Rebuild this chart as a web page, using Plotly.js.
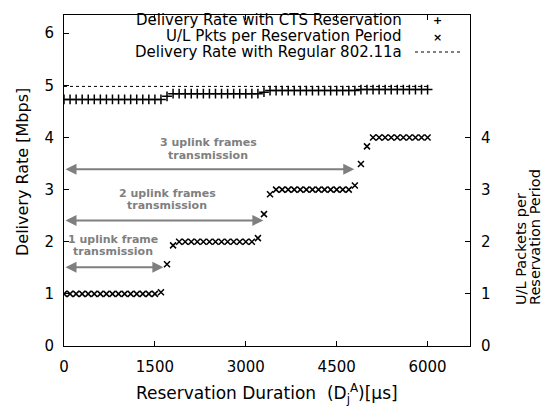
<!DOCTYPE html>
<html>
<head>
<meta charset="utf-8">
<script src="https://cdn.plot.ly/plotly-3.0.1.min.js"></script>
<style>html,body{margin:0;padding:0;background:#fff;}#chart{width:546px;height:406px;}</style>
</head>
<body>
<div id="chart"></div>
<script>
// Reservation duration (µs)
var durations = [0,100,200,300,400,500,600,700,800,900,1000,1100,1200,1300,1400,1500,1600,1700,1800,1900,2000,2100,2200,2300,2400,2500,2600,2700,2800,2900,3000,3100,3200,3300,3400,3500,3600,3700,3800,3900,4000,4100,4200,4300,4400,4500,4600,4700,4800,4900,5000,5100,5200,5300,5400,5500,5600,5700,5800,5900,6000];
// Delivery rate with CTS reservation (Mbps)
var ctsRate = [4.73,4.73,4.73,4.73,4.73,4.73,4.73,4.73,4.73,4.73,4.73,4.73,4.73,4.73,4.73,4.73,4.73,4.79,4.84,4.84,4.84,4.84,4.84,4.84,4.84,4.84,4.84,4.84,4.84,4.84,4.84,4.84,4.84,4.87,4.90,4.90,4.90,4.90,4.90,4.90,4.90,4.90,4.90,4.90,4.90,4.90,4.90,4.90,4.90,4.92,4.92,4.92,4.92,4.92,4.92,4.92,4.92,4.92,4.92,4.92,4.92];
// U/L packets per reservation period
var ulPkts = [1,1,1,1,1,1,1,1,1,1,1,1,1,1,1,1,1.03,1.57,1.93,2,2,2,2,2,2,2,2,2,2,2,2,2,2.07,2.53,2.91,3,3,3,3,3,3,3,3,3,3,3,3,3,3.08,3.49,3.83,4,4,4,4,4,4,4,4,4,4];
// Regular 802.11a delivery rate (Mbps)
var regularX = [0, 6000];
var regularRate = [4.98, 4.98];

var leftTicks = [0,1,2,3,4,5,6];
var rightTicks = [0,1,2,3,4];
var xTicks = [0,1500,3000,4500,6000];

var legendNames = ["Delivery Rate with CTS Reservation","U/L Pkts per Reservation Period","Delivery Rate with Regular 802.11a"];
var arrowLabelTop = ["1 uplink frame","2 uplink frames","3 uplink frames"];
var arrowLabelBottom = ["transmission","transmission","transmission"];
var arrowEnds = [1640, 3290, 4790];
var arrowLevels = [1.51, 2.41, 3.39];

var FONT = "DejaVu Sans, sans-serif";
var GRAY = "#7f7f7f";
var PL = 64, PR = 470, PT = 15, PB = 346;
function px(x) { return (x - PL) / (PR - PL); }
function py(y) { return (PB - y) / (PB - PT); }

var traces = [
  {x: regularX, y: regularRate, mode: "lines", line: {color: "#000", width: 1, dash: "dot"}, hoverinfo: "skip"},
  {x: durations, y: ctsRate, mode: "markers", marker: {symbol: "cross-thin", size: 7, line: {color: "#000", width: 1.5}}},
  {x: durations, y: ulPkts, yaxis: "y2", mode: "markers", marker: {symbol: "x-thin", size: 6, line: {color: "#000", width: 1.5}}}
];

var annotations = [];
for (var i = 0; i < 3; i++) {
  annotations.push({
    x: arrowEnds[i], y: arrowLevels[i], xref: "x", yref: "y",
    ax: 0, ay: arrowLevels[i], axref: "x", ayref: "y",
    showarrow: true, arrowside: "end+start", arrowhead: 2, arrowsize: 1.1, arrowwidth: 2, arrowcolor: GRAY,
    text: ""
  });
}
var labelCx = [113, 167, 208];
var labelTopY = [239, 193, 142];
var labelBotY = [251, 205, 155];
for (var i = 0; i < 3; i++) {
  annotations.push({
    x: px(labelCx[i]), y: py(labelTopY[i]), xref: "paper", yref: "paper",
    xanchor: "center", yanchor: "middle", showarrow: false,
    text: "<b>" + arrowLabelTop[i] + "</b>", font: {family: FONT, size: 11, color: GRAY}
  });
  annotations.push({
    x: px(labelCx[i]), y: py(labelBotY[i]), xref: "paper", yref: "paper",
    xanchor: "center", yanchor: "middle", showarrow: false,
    text: "<b>" + arrowLabelBottom[i] + "</b>", font: {family: FONT, size: 11, color: GRAY}
  });
}
// legend texts
var legY = [20, 36, 52];
for (var i = 0; i < 3; i++) {
  annotations.push({
    x: px(404), y: py(legY[i]), xref: "paper", yref: "paper",
    xanchor: "right", yanchor: "middle", showarrow: false,
    text: legendNames[i], font: {family: FONT, size: 15, color: "#000"}
  });
}
// legend symbols
annotations.push({x: px(437), y: py(21), xref: "paper", yref: "paper", xanchor: "center", yanchor: "middle", showarrow: false, text: "<b>+</b>", font: {family: FONT, size: 11, color: "#000"}});
annotations.push({x: px(437), y: py(37), xref: "paper", yref: "paper", xanchor: "center", yanchor: "middle", showarrow: false, text: "<b>×</b>", font: {family: FONT, size: 11, color: "#000"}});
// axis titles
annotations.push({x: px(22), y: py(172), xref: "paper", yref: "paper", xanchor: "center", yanchor: "middle", showarrow: false, textangle: -90, text: "Delivery Rate [Mbps]", font: {family: FONT, size: 16, color: "#000"}});
annotations.push({x: px(521), y: py(307), xref: "paper", yref: "paper", xanchor: "center", yanchor: "bottom", showarrow: false, textangle: -90, text: "U/L Packets per", font: {family: FONT, size: 14.5, color: "#000"}});
annotations.push({x: px(535), y: py(307), xref: "paper", yref: "paper", xanchor: "center", yanchor: "bottom", showarrow: false, textangle: -90, text: "Reservation Period", font: {family: FONT, size: 14.5, color: "#000"}});
annotations.push({x: px(267), y: py(393), xref: "paper", yref: "paper", xanchor: "center", yanchor: "middle", showarrow: false, text: "Reservation Duration&nbsp;&nbsp;(D<sub>j</sub><sup>A</sup>)[µs]", font: {family: FONT, size: 17, color: "#000"}});

var shapes = [
  {type: "line", xref: "paper", yref: "paper", x0: px(415), x1: px(460), y0: py(52), y1: py(52), line: {color: "#000", width: 1, dash: "dot"}}
];

var layout = {
  width: 546, height: 406,
  margin: {l: PL, r: 546 - PR, t: PT, b: 406 - PB},
  paper_bgcolor: "#fff", plot_bgcolor: "#fff",
  showlegend: false,
  font: {family: FONT, size: 15, color: "#000"},
  xaxis: {range: [0, 6700], tickvals: xTicks, ticktext: xTicks.map(String), ticks: "inside", ticklen: 5, tickcolor: "#000",
          showline: true, linecolor: "#000", linewidth: 1, mirror: "ticks", showgrid: false, zeroline: false,
          ticklabelstandoff: 7, tickfont: {family: FONT, size: 15}},
  yaxis: {range: [0, 6.35], tickvals: leftTicks, ticks: "inside", ticklen: 5, tickcolor: "#000",
          showline: true, linecolor: "#000", linewidth: 1, showgrid: false, zeroline: false,
          ticklabelstandoff: 6, tickfont: {family: FONT, size: 15}},
  yaxis2: {range: [0, 6.35], tickvals: rightTicks, overlaying: "y", side: "right", ticks: "inside", ticklen: 5, tickcolor: "#000",
          showline: true, linecolor: "#000", linewidth: 1, showgrid: false, zeroline: false,
          ticklabelstandoff: 7, tickfont: {family: FONT, size: 15}},
  annotations: annotations,
  shapes: shapes
};

Plotly.newPlot("chart", traces, layout, {displayModeBar: false, staticPlot: true});
</script>
</body>
</html>
